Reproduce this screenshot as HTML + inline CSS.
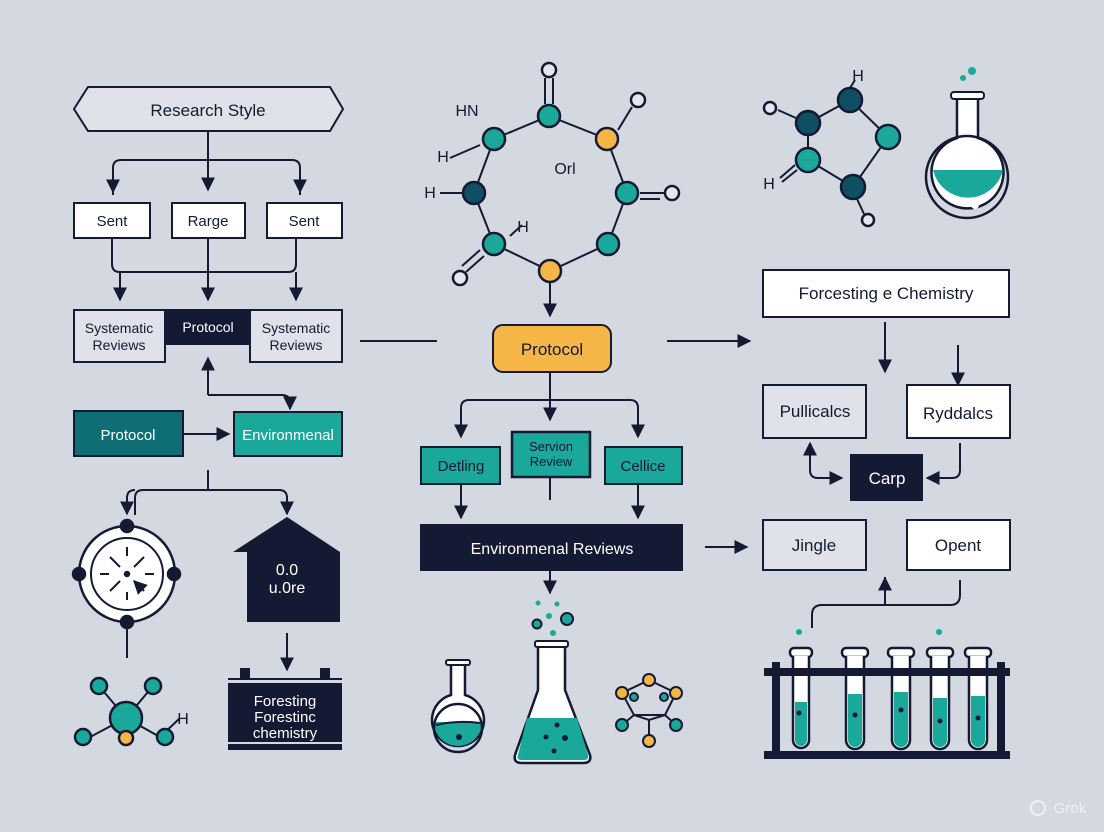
<!DOCTYPE html>
<html><head><meta charset="utf-8"><style>
html,body{margin:0;padding:0;background:#d4d8e0;}
svg{display:block;}
text{font-family:"Liberation Sans",sans-serif;fill:#141a33;}
</style></head><body>
<svg width="1104" height="832" viewBox="0 0 1104 832" xmlns="http://www.w3.org/2000/svg">
<defs>
<marker id="a" viewBox="0 0 10 10" refX="9" refY="5" markerWidth="7" markerHeight="7" orient="auto-start-reverse"><path d="M0,0 L10,5 L0,10 z" fill="#141a33"/></marker>
</defs>
<rect width="1104" height="832" fill="#d4d8e0"/>
<g stroke="#141a33" stroke-width="2" fill="none">
<!-- LEFT column -->
<path d="M88,87 H330 L343,109 L330,131 H88 L74,109 Z" fill="#dfe2e8"/>
<path d="M208,131 V160 M113,195 V168 Q113,160 121,160 H292 Q300,160 300,168 V195" />
<path d="M208,160 V190" marker-end="url(#a)"/>
<path d="M113,168 V192" marker-end="url(#a)"/><path d="M300,168 V192" marker-end="url(#a)"/>
<rect x="74" y="203" width="76" height="35" fill="#fff"/>
<rect x="172" y="203" width="73" height="35" fill="#fff"/>
<rect x="267" y="203" width="75" height="35" fill="#fff"/>
<path d="M112,238 V264 Q112,272 120,272 H288 Q296,272 296,264 V238 M208,238 V272"/>
<path d="M120,272 V300" marker-end="url(#a)"/><path d="M208,272 V300" marker-end="url(#a)"/><path d="M296,272 V300" marker-end="url(#a)"/>
<rect x="74" y="310" width="91" height="52" fill="#dfe2e8"/>
<rect x="250" y="310" width="92" height="52" fill="#dfe2e8"/>
<rect x="165" y="310" width="85" height="34" fill="#141a33"/>
<path d="M360,341 H437"/>
<path d="M208,395 V358" marker-end="url(#a)"/>
<path d="M208,395 H282 Q290,395 290,403 V409" marker-end="url(#a)"/>
<rect x="74" y="411" width="109" height="45" fill="#0e6e74"/>
<path d="M184,434 H229" marker-end="url(#a)"/>
<rect x="234" y="412" width="108" height="44" fill="#1aa89a"/>
<path d="M208,470 V490 M135,515 V498 Q135,490 143,490 H279 Q287,490 287,498"/>
<path d="M127,498 Q127,490 135,490" />
<path d="M127,496 V514" marker-end="url(#a)"/><path d="M287,496 V514" marker-end="url(#a)"/>
<circle cx="127" cy="574" r="48" fill="#fff" stroke-width="2.5"/>
<circle cx="127" cy="574" r="36" fill="#fff"/>
<path d="M127,547 V556 M127,592 V600 M100,574 H109 M145,574 H154"/>
<path d="M110,557 L120,567 M144,557 L134,567 M110,591 L120,581 M144,591 L134,581" marker-end="url(#a)"/>
<path d="M127,622 V658"/>
<path d="M287,633 V670" marker-end="url(#a)"/>
<!-- left molecule -->
<path d="M99,686 L126,718 L153,686 M90,737 L126,718 L160,737 L180,718"/>
<!-- CENTER ring -->
<path d="M549,116 L607,139 L627,193 L608,244 L550,271 L494,244 L474,193 L494,139 Z"/>
<path d="M545,104 V78 M553,104 V78 M618,130 L632,107 M640,193 H665 M640,199 H660 M484,256 L466,272 M480,250 L462,266 M440,193 H462 M450,158 L480,145 M510,236 L522,225"/>
<path d="M550,283 V316" marker-end="url(#a)"/>
<rect x="493" y="325" width="118" height="47" rx="10" fill="#f6b647"/>
<path d="M550,372 V420" marker-end="url(#a)"/>
<path d="M461,437 V408 Q461,400 469,400 H630 Q638,400 638,408 V437" marker-end="url(#a)"/>
<path d="M461,408 V437" marker-end="url(#a)"/>
<rect x="421" y="447" width="79" height="37" fill="#1aa89a"/>
<rect x="512" y="432" width="78" height="45" fill="#1aa89a" stroke-width="2.5"/>
<rect x="605" y="447" width="77" height="37" fill="#1aa89a"/>
<path d="M461,484 V518" marker-end="url(#a)"/><path d="M638,484 V518" marker-end="url(#a)"/><path d="M550,477 V500"/>
<rect x="421" y="525" width="261" height="45" fill="#141a33"/>
<path d="M550,570 V593" marker-end="url(#a)"/>
<path d="M667,341 H750" marker-end="url(#a)"/>
<path d="M705,547 H747" marker-end="url(#a)"/>
<!-- small flask -->
<path d="M451,663 V695 A26,26 0 1 0 465,695 V663" fill="#fff" stroke-width="2.5"/>
<rect x="446" y="660" width="24" height="5" rx="2" fill="#fff"/>
<!-- big flask -->
<path d="M538,645 V690 L515,755 Q513,763 522,763 H583 Q592,763 590,755 L565,690 V645 Z" fill="#fff" stroke-width="2.5"/>
<rect x="535" y="641" width="33" height="6" rx="2" fill="#fff"/>
<!-- RIGHT -->
<path d="M850,100 L888,137 L853,187 L808,160 L808,123 Z"/>
<path d="M796,118 L778,110 M852,188 L864,214 M850,88 L855,80 M795,165 L780,178 M797,170 L782,182"/>
<path d="M957,97 V138 A36,36 0 1 0 978,138 V97" fill="#fff" stroke-width="2.5"/>
<rect x="951" y="92" width="33" height="7" rx="3" fill="#fff"/>
<rect x="763" y="270" width="246" height="47" fill="#fff"/>
<path d="M885,322 V372" marker-end="url(#a)"/><path d="M958,345 V385" marker-end="url(#a)"/>
<rect x="763" y="385" width="103" height="53" fill="#dfe2e8"/>
<rect x="907" y="385" width="103" height="53" fill="#fff"/>
<path d="M810,443 V470 Q810,478 818,478 H842" marker-start="url(#a)" marker-end="url(#a)"/>
<path d="M960,443 V470 Q960,478 952,478 H927" marker-end="url(#a)"/>
<rect x="851" y="455" width="71" height="45" fill="#141a33"/>
<rect x="763" y="520" width="103" height="50" fill="#dfe2e8"/>
<rect x="907" y="520" width="103" height="50" fill="#fff"/>
<path d="M812,628 V615 Q812,605 822,605 H950 Q960,605 960,595 V580 M885,605 V577" />
<path d="M885,605 V578" marker-end="url(#a)"/>
</g>
<!-- rack -->
<g stroke="#141a33" stroke-width="2.5" fill="#fff">
<g id="t"><rect x="790" y="648" width="22" height="9" rx="4"/><path d="M793,656 V740 a8,8 0 0 0 16,0 V656"/></g>
<g><rect x="842" y="648" width="26" height="9" rx="4"/><path d="M846,656 V740 a9,9 0 0 0 18,0 V656"/></g>
<g><rect x="888" y="648" width="26" height="9" rx="4"/><path d="M892,656 V740 a9,9 0 0 0 18,0 V656"/></g>
<g><rect x="927" y="648" width="26" height="9" rx="4"/><path d="M931,656 V740 a9,9 0 0 0 18,0 V656"/></g>
<g><rect x="965" y="648" width="26" height="9" rx="4"/><path d="M969,656 V740 a9,9 0 0 0 18,0 V656"/></g>
</g>
<g fill="#1aa89a">
<path d="M795,702 H807 V740 a6,6 0 0 1 -12,0 Z"/>
<path d="M848,694 H862 V740 a7,7 0 0 1 -14,0 Z"/>
<path d="M894,692 H908 V740 a7,7 0 0 1 -14,0 Z"/>
<path d="M933,698 H947 V740 a7,7 0 0 1 -14,0 Z"/>
<path d="M971,696 H985 V740 a7,7 0 0 1 -14,0 Z"/>
<circle cx="799" cy="632" r="3"/><circle cx="939" cy="632" r="3"/>
</g>
<g fill="#141a33">
<rect x="764" y="668" width="246" height="8"/><rect x="764" y="751" width="246" height="8"/>
<rect x="772" y="662" width="8" height="97"/><rect x="997" y="662" width="8" height="97"/>
<circle cx="799" cy="713" r="2.5"/><circle cx="855" cy="715" r="2.5"/><circle cx="901" cy="710" r="2.5"/><circle cx="940" cy="721" r="2.5"/><circle cx="978" cy="718" r="2.5"/>
</g>
<!-- house & calendar -->
<path d="M233,552 L287,517 L340,552 V622 H247 V552 Z" fill="#141a33"/>
<rect x="228" y="678" width="114" height="72" fill="#141a33"/>
<rect x="240" y="668" width="10" height="14" fill="#141a33"/><rect x="320" y="668" width="10" height="14" fill="#141a33"/>
<rect x="228" y="680" width="114" height="3" fill="#d4d8e0"/>
<path d="M228,743 H342" stroke="#d4d8e0" stroke-width="2"/>
<!-- nodes -->
<g stroke="#141a33" stroke-width="2.5">
<circle cx="127" cy="526" r="6" fill="#141a33"/><circle cx="127" cy="622" r="6" fill="#141a33"/>
<circle cx="79" cy="574" r="6" fill="#141a33"/><circle cx="174" cy="574" r="6" fill="#141a33"/>
<circle cx="127" cy="574" r="2" fill="#141a33"/>
<circle cx="99" cy="686" r="8" fill="#1aa89a"/><circle cx="153" cy="686" r="8" fill="#1aa89a"/>
<circle cx="83" cy="737" r="8" fill="#1aa89a"/><circle cx="165" cy="737" r="8" fill="#1aa89a"/>
<circle cx="126" cy="718" r="16" fill="#1aa89a"/><circle cx="126" cy="738" r="7" fill="#f6b647"/>
<circle cx="549" cy="116" r="11" fill="#1aa89a"/><circle cx="607" cy="139" r="11" fill="#f6b647"/>
<circle cx="627" cy="193" r="11" fill="#1aa89a"/><circle cx="608" cy="244" r="11" fill="#1aa89a"/>
<circle cx="550" cy="271" r="11" fill="#f6b647"/><circle cx="494" cy="244" r="11" fill="#1aa89a"/>
<circle cx="474" cy="193" r="11" fill="#0e4f63"/><circle cx="494" cy="139" r="11" fill="#1aa89a"/>
<circle cx="549" cy="70" r="7" fill="#e4e7ec"/><circle cx="638" cy="100" r="7" fill="#e4e7ec"/>
<circle cx="672" cy="193" r="7" fill="#e4e7ec"/><circle cx="460" cy="278" r="7" fill="#e4e7ec"/>
<circle cx="850" cy="100" r="12" fill="#0e4f63"/><circle cx="888" cy="137" r="12" fill="#1aa89a"/>
<circle cx="853" cy="187" r="12" fill="#0e4f63"/><circle cx="808" cy="160" r="12" fill="#1aa89a"/>
<circle cx="808" cy="123" r="12" fill="#0e4f63"/>
<circle cx="770" cy="108" r="6" fill="#e4e7ec"/><circle cx="868" cy="220" r="6" fill="#e4e7ec"/>
</g>
<!-- flask liquids -->
<path d="M933,170 H1003 A36,36 0 0 1 933,170 Z" fill="#1aa89a"/>
<circle cx="967" cy="177" r="41" fill="none" stroke="#141a33" stroke-width="2.5"/>
<circle cx="975" cy="205" r="4" fill="#fff"/><circle cx="985" cy="198" r="3" fill="#fff"/>
<circle cx="963" cy="78" r="3" fill="#1aa89a"/><circle cx="972" cy="71" r="4" fill="#1aa89a"/>
<path d="M434,722 H482 A24,24 0 0 1 434,722 Z" fill="#1aa89a"/>
<path d="M436,725 Q458,720 480,723" stroke="#141a33" stroke-width="2" fill="none"/>
<circle cx="458" cy="728" r="24" fill="none" stroke="#141a33" stroke-width="2.5"/>
<circle cx="459" cy="737" r="3" fill="#141a33"/>
<path d="M527,718 H577 L588,755 Q589,760 584,760 H522 Q516,760 518,755 Z" fill="#1aa89a"/>
<g fill="#141a33"><circle cx="557" cy="725" r="2.5"/><circle cx="546" cy="737" r="2.5"/><circle cx="565" cy="738" r="3"/><circle cx="554" cy="751" r="2.5"/></g>
<g stroke="#141a33" stroke-width="2" fill="#1aa89a"><circle cx="537" cy="624" r="4.5"/><circle cx="567" cy="619" r="6"/></g>
<g fill="#1aa89a"><circle cx="538" cy="603" r="2.5"/><circle cx="557" cy="604" r="2.5"/><circle cx="549" cy="616" r="3"/><circle cx="553" cy="633" r="3"/></g>
<!-- small molecule center-right -->
<g stroke="#141a33" stroke-width="2" fill="none"><path d="M649,680 L622,693 L634,715 L622,725 M649,680 L676,693 L665,715 L676,725 M634,715 H665 L649,720 Z M649,720 V740 M634,715 L622,693 M665,715 L676,693"/></g>
<g stroke="#141a33" stroke-width="2">
<circle cx="649" cy="680" r="6" fill="#f6b647"/><circle cx="622" cy="693" r="6" fill="#f6b647"/><circle cx="676" cy="693" r="6" fill="#f6b647"/>
<circle cx="622" cy="725" r="6" fill="#1aa89a"/><circle cx="676" cy="725" r="6" fill="#1aa89a"/><circle cx="649" cy="741" r="6" fill="#f6b647"/>
<circle cx="634" cy="697" r="4" fill="#1aa89a"/><circle cx="664" cy="697" r="4" fill="#1aa89a"/>
</g>
<!-- texts -->
<g font-size="17" text-anchor="middle">
<text x="208" y="116">Research Style</text>
<text x="112" y="226" font-size="15">Sent</text>
<text x="208" y="226" font-size="15">Rarge</text>
<text x="304" y="226" font-size="15">Sent</text>
<text x="119" y="333" font-size="14">Systematic</text><text x="119" y="350" font-size="14">Reviews</text>
<text x="208" y="332" font-size="14" style="fill:#fff">Protocol</text>
<text x="296" y="333" font-size="14">Systematic</text><text x="296" y="350" font-size="14">Reviews</text>
<text x="128" y="440" font-size="15" style="fill:#fff">Protocol</text>
<text x="288" y="440" font-size="15" style="fill:#fff">Environmenal</text>
<text x="287" y="575" font-size="16" style="fill:#fff">0.0</text>
<text x="287" y="593" font-size="16" style="fill:#fff">u.0re</text>
<text x="285" y="706" font-size="15" style="fill:#fff">Foresting</text>
<text x="285" y="722" font-size="15" style="fill:#fff">Forestinc</text>
<text x="285" y="738" font-size="15" style="fill:#fff">chemistry</text>
<text x="183" y="724" font-size="16">H</text>
<text x="467" y="116" font-size="16">HN</text>
<text x="443" y="162" font-size="16">H</text>
<text x="430" y="198" font-size="16">H</text>
<text x="523" y="232" font-size="16">H</text>
<text x="565" y="174" font-size="16">Orl</text>
<text x="552" y="355" font-size="17">Protocol</text>
<text x="461" y="471" font-size="15">Detling</text>
<text x="551" y="451" font-size="13">Servion</text>
<text x="551" y="466" font-size="13">Review</text>
<text x="643" y="471" font-size="15">Cellice</text>
<text x="552" y="554" font-size="16" style="fill:#fff">Environmenal Reviews</text>
<text x="858" y="81" font-size="16">H</text>
<text x="769" y="189" font-size="16">H</text>
<text x="886" y="299" font-size="17">Forcesting e Chemistry</text>
<text x="815" y="417" font-size="17">Pullicalcs</text>
<text x="958" y="419" font-size="17">Ryddalcs</text>
<text x="887" y="484" font-size="17" style="fill:#fff">Carp</text>
<text x="814" y="551" font-size="17">Jingle</text>
<text x="958" y="551" font-size="17">Opent</text>
<text x="1070" y="813" font-size="15" style="fill:#eef0f4">Grok</text>
</g>
<circle cx="1038" cy="808" r="7" fill="none" stroke="#eef0f4" stroke-width="2"/>
</svg>
</body></html>
